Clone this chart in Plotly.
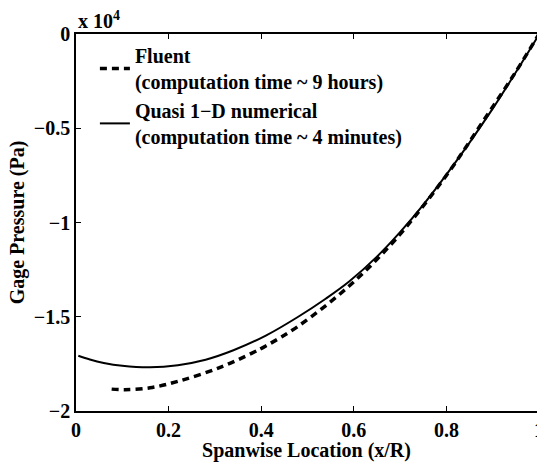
import plotly.graph_objects as go

# Data (pressure in units of 1e4 Pa)
quasi_x = [0.005, 0.03, 0.06, 0.10, 0.16, 0.22, 0.28, 0.34, 0.41, 0.48, 0.54,
           0.59, 0.65, 0.70, 0.75, 0.80, 0.85, 0.90, 0.95, 1.0]
quasi_y = [-1.707, -1.727, -1.745, -1.760, -1.768, -1.757, -1.728, -1.678, -1.600,
           -1.500, -1.403, -1.313, -1.181, -1.051, -0.906, -0.746, -0.576, -0.396,
           -0.203, -0.003]

fluent_x = [0.077, 0.105, 0.16, 0.224, 0.31, 0.38, 0.41, 0.48, 0.59, 0.69,
            0.80, 0.88, 0.95, 1.0]
fluent_y = [-1.884, -1.887, -1.877, -1.84, -1.770, -1.693, -1.655, -1.55, -1.337,
            -1.09, -0.75, -0.46, -0.20, 0.0]

x_ticks = [0, 0.2, 0.4, 0.6, 0.8]
x_ticktext = ["0", "0.2", "0.4", "0.6", "0.8"]
y_ticks = [0, -0.5, -1, -1.5, -2]
y_ticktext = ["0", "\u22120.5", "\u22121", "\u22121.5", "\u22122"]

FONT = "Liberation Serif"
BOLD = dict(family=FONT, size=20, color="black", weight="bold")

fig = go.Figure()
fig.add_trace(go.Scatter(
    x=fluent_x, y=fluent_y, mode="lines",
    name="Fluent<br>(computation time ~ 9 hours)",
    line=dict(color="black", width=3.5, dash="7px,5px", shape="spline", smoothing=1.0),
))
fig.add_trace(go.Scatter(
    x=quasi_x, y=quasi_y, mode="lines",
    name="Quasi 1\u2212D numerical<br>(computation time ~ 4 minutes)",
    line=dict(color="black", width=2, shape="spline", smoothing=1.0),
))

fig.update_layout(
    width=537, height=462,
    margin=dict(l=76, r=0, t=34, b=49),
    paper_bgcolor="white", plot_bgcolor="white",
    font=BOLD,
    showlegend=True,
    legend=dict(x=0.041, y=0.995, xanchor="left", yanchor="top",
                bgcolor="rgba(0,0,0,0)", borderwidth=0,
                font=BOLD, tracegroupgap=0, itemwidth=30),
    xaxis=dict(range=[0, 0.9957], tickvals=x_ticks, ticktext=x_ticktext,
               tickfont=BOLD,
               ticks="inside", ticklen=5, tickwidth=1.2, tickcolor="black",
               showline=True, linewidth=1.5, linecolor="black", mirror="ticks",
               showgrid=False, zeroline=False,
               title=dict(text="Spanwise Location (x/R)", standoff=7, font=BOLD)),
    yaxis=dict(range=[-2, 0], tickvals=y_ticks, ticktext=y_ticktext,
               tickfont=BOLD,
               ticks="inside", ticklen=5, tickwidth=1.2, tickcolor="black",
               showline=True, linewidth=1.5, linecolor="black", mirror=False,
               showgrid=False, zeroline=False,
               title=dict(text="Gage Pressure (Pa)", standoff=4, font=BOLD)),
    annotations=[
        dict(xref="paper", yref="paper", x=0.0, y=1.0, xanchor="left", yanchor="bottom",
             text="x 10<sup>4</sup>", showarrow=False, font=BOLD),
        dict(xref="paper", yref="paper", x=1.0043, y=0.0, xanchor="center", yanchor="top",
             yshift=-6, text="1", showarrow=False, font=BOLD),
    ],
)

fig.write_html("out.html")
